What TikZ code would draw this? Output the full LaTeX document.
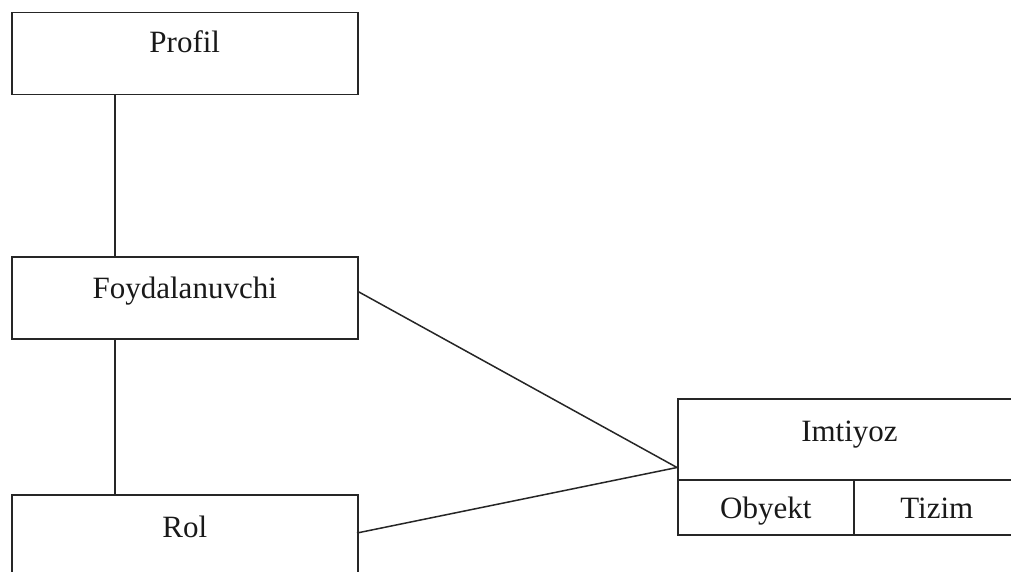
\documentclass[tikz,border=0pt]{standalone}
\usepackage{fontspec}
\setmainfont{Liberation Serif}
\begin{document}
\begin{tikzpicture}[x=1pt,y=-1pt,
  box/.style={draw=black!85,line width=1.5pt,rectangle,inner sep=0pt,anchor=north west},
  lbl/.style={anchor=base,inner sep=0pt,font=\fontsize{31}{36}\selectfont,text=black!90},
  link/.style={draw=black!85,line width=1.5pt}]
\useasboundingbox (0,0) rectangle (1011,572);
\clip (0,0) rectangle (1011,572);
% entity boxes
\node[box,minimum width=346pt,minimum height=82pt] (profil) at (11,12) {};
\node[box,minimum width=346pt,minimum height=82pt] (foy) at (11,256) {};
\node[box,minimum width=346pt,minimum height=110pt] (rol) at (11,494) {};
\node[box,minimum width=360pt,minimum height=81pt] (imt) at (677,398) {};
\node[box,minimum width=176pt,minimum height=55pt] (obj) at (677,479) {};
\node[box,minimum width=184pt,minimum height=55pt] (tiz) at (853,479) {};
% labels
\node[lbl] (tprofil) at ([yshift=-41pt]profil.north) {Profil};
\node[lbl] (tfoy) at ([yshift=-42pt]foy.north) {Foydalanuvchi};
\node[lbl] (trol) at ([yshift=-43pt]rol.north) {Rol};
\node[lbl] (timt) at ([xshift=-5pt,yshift=-43pt]imt.north -| obj.east) {Imtiyoz};
\node[lbl] (tobj) at ([yshift=-39pt]obj.north) {Obyekt};
\node[lbl] (ttiz) at ([xshift=-9pt,yshift=-39pt]tiz.north) {Tizim};
% connectors
\coordinate (vx) at (115,0);
\draw[link] (profil.south -| vx) -- (foy.north -| vx);
\draw[link] (foy.south -| vx) -- (rol.north -| vx);
\coordinate (imtin) at ([yshift=13pt]imt.south west);
\draw[link] ([yshift=6pt]foy.east) -- (imtin);
\coordinate (rolout) at (357,533);
\draw[link] (rolout) -- (imtin);
\end{tikzpicture}
\end{document}
